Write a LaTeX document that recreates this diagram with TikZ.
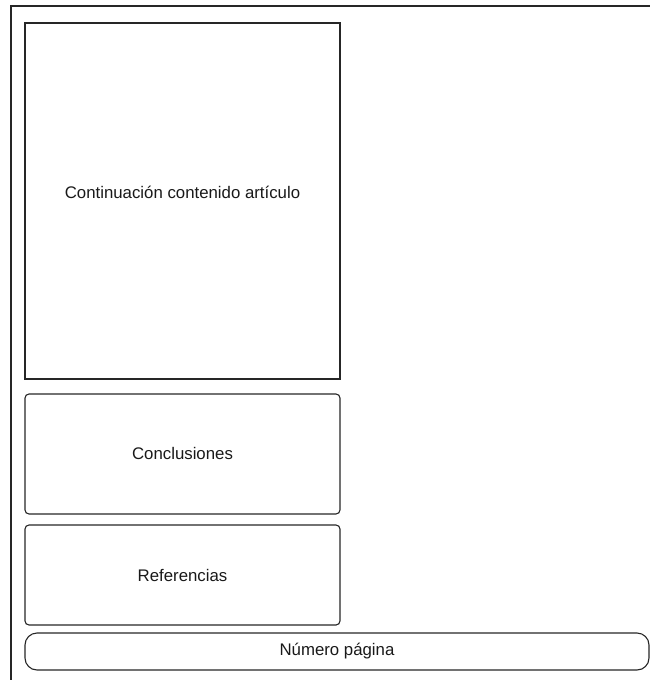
\documentclass[tikz,border=0pt]{standalone}
\usepackage{fontspec}
\setmainfont{Liberation Sans}
\begin{document}
\begin{tikzpicture}[x=1pt,y=-1pt,
  box/.style={draw=black!85,line width=1.1pt},
  lbl/.style={font=\fontsize{16.8}{19}\selectfont,text=black!90}]
\useasboundingbox (0,0) rectangle (650,680);
\begin{scope}
\clip (0,0) rectangle (650,680);
\draw[box] (11,6) rectangle (670,700);
\end{scope}
\draw[box] (25,23) rectangle (340,379);
\node[lbl] (cont) at (182.5,192) {Continuación contenido artículo};
\draw[box,rounded corners=4pt] (25,394) rectangle (340,514);
\node[lbl] (conc) at (182.5,453) {Conclusiones};
\draw[box,rounded corners=4pt] (25,525) rectangle (340,625);
\node[lbl] (ref) at (182.5,575) {Referencias};
\draw[box,rounded corners=12pt] (25,633) rectangle (649,670);
\node[lbl] (num) at (337,651) {Número página};
\end{tikzpicture}
\end{document}
